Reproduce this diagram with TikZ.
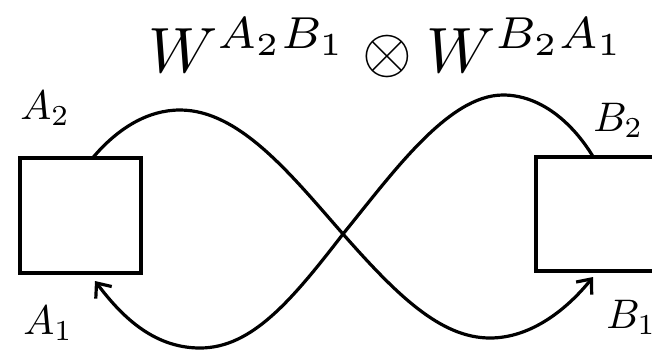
\documentclass[tikz,border=0pt]{standalone}
\usetikzlibrary{arrows.meta}
\newcommand{\biglab}[1]{\scalebox{3.1}{$#1$}}
\newcommand{\bigtitle}[1]{\scalebox{4.8}{$#1$}}
\begin{document}
\begin{tikzpicture}[x=0.75pt,y=-0.75pt,
  box/.style={draw,line width=3.2pt,rectangle,inner sep=0pt},
  wire/.style={line width=2.4pt},
  arr/.style={wire,-{Straight Barb[length=9pt,width=15pt,line width=2.4pt]}},
  lab/.style={inner sep=0pt,anchor=base west},
  title/.style={inner sep=0pt,anchor=base west}]
\useasboundingbox (0,0) rectangle (652,351);
\clip (0,0) rectangle (652,351);
\node[box,minimum width=90.75pt,minimum height=86.25pt] (L) at (80.5,215.5) {};
\node[box,minimum width=120pt,minimum height=85.5pt] (R) at (616,214) {};
\coordinate (a2) at (93,157.5);
\coordinate (a1) at (95,281);
\coordinate (b2) at (593,156.5);
\coordinate (b1) at (593,277);
\coordinate (x) at (343,234);
\draw[arr] (a2) .. controls (118,128) and (148,110) .. (180,110)
  .. controls (240,110) and (292,176) .. (x)
  .. controls (396,294) and (440,338) .. (490,338)
  .. controls (532,338) and (568,308) .. (b1);
\draw[arr] (b2) .. controls (572,122) and (540,95) .. (503,95)
  .. controls (448,95) and (392,174) .. (x)
  .. controls (292,300) and (252,348) .. (200,348)
  .. controls (152,348) and (120,314) .. (a1);
\node[lab] (tA2) at (20,119) {\biglab{A_2}};
\node[lab] (tA1) at (23,334) {\biglab{A_1}};
\node[lab] (tB2) at (593,131) {\biglab{B_2}};
\node[lab] (tB1) at (606,328) {\biglab{B_1}};
\node[title] (T) at (148,72) {\bigtitle{W^{A_2B_1}\otimes W^{B_2A_1}}};
\end{tikzpicture}
\end{document}
